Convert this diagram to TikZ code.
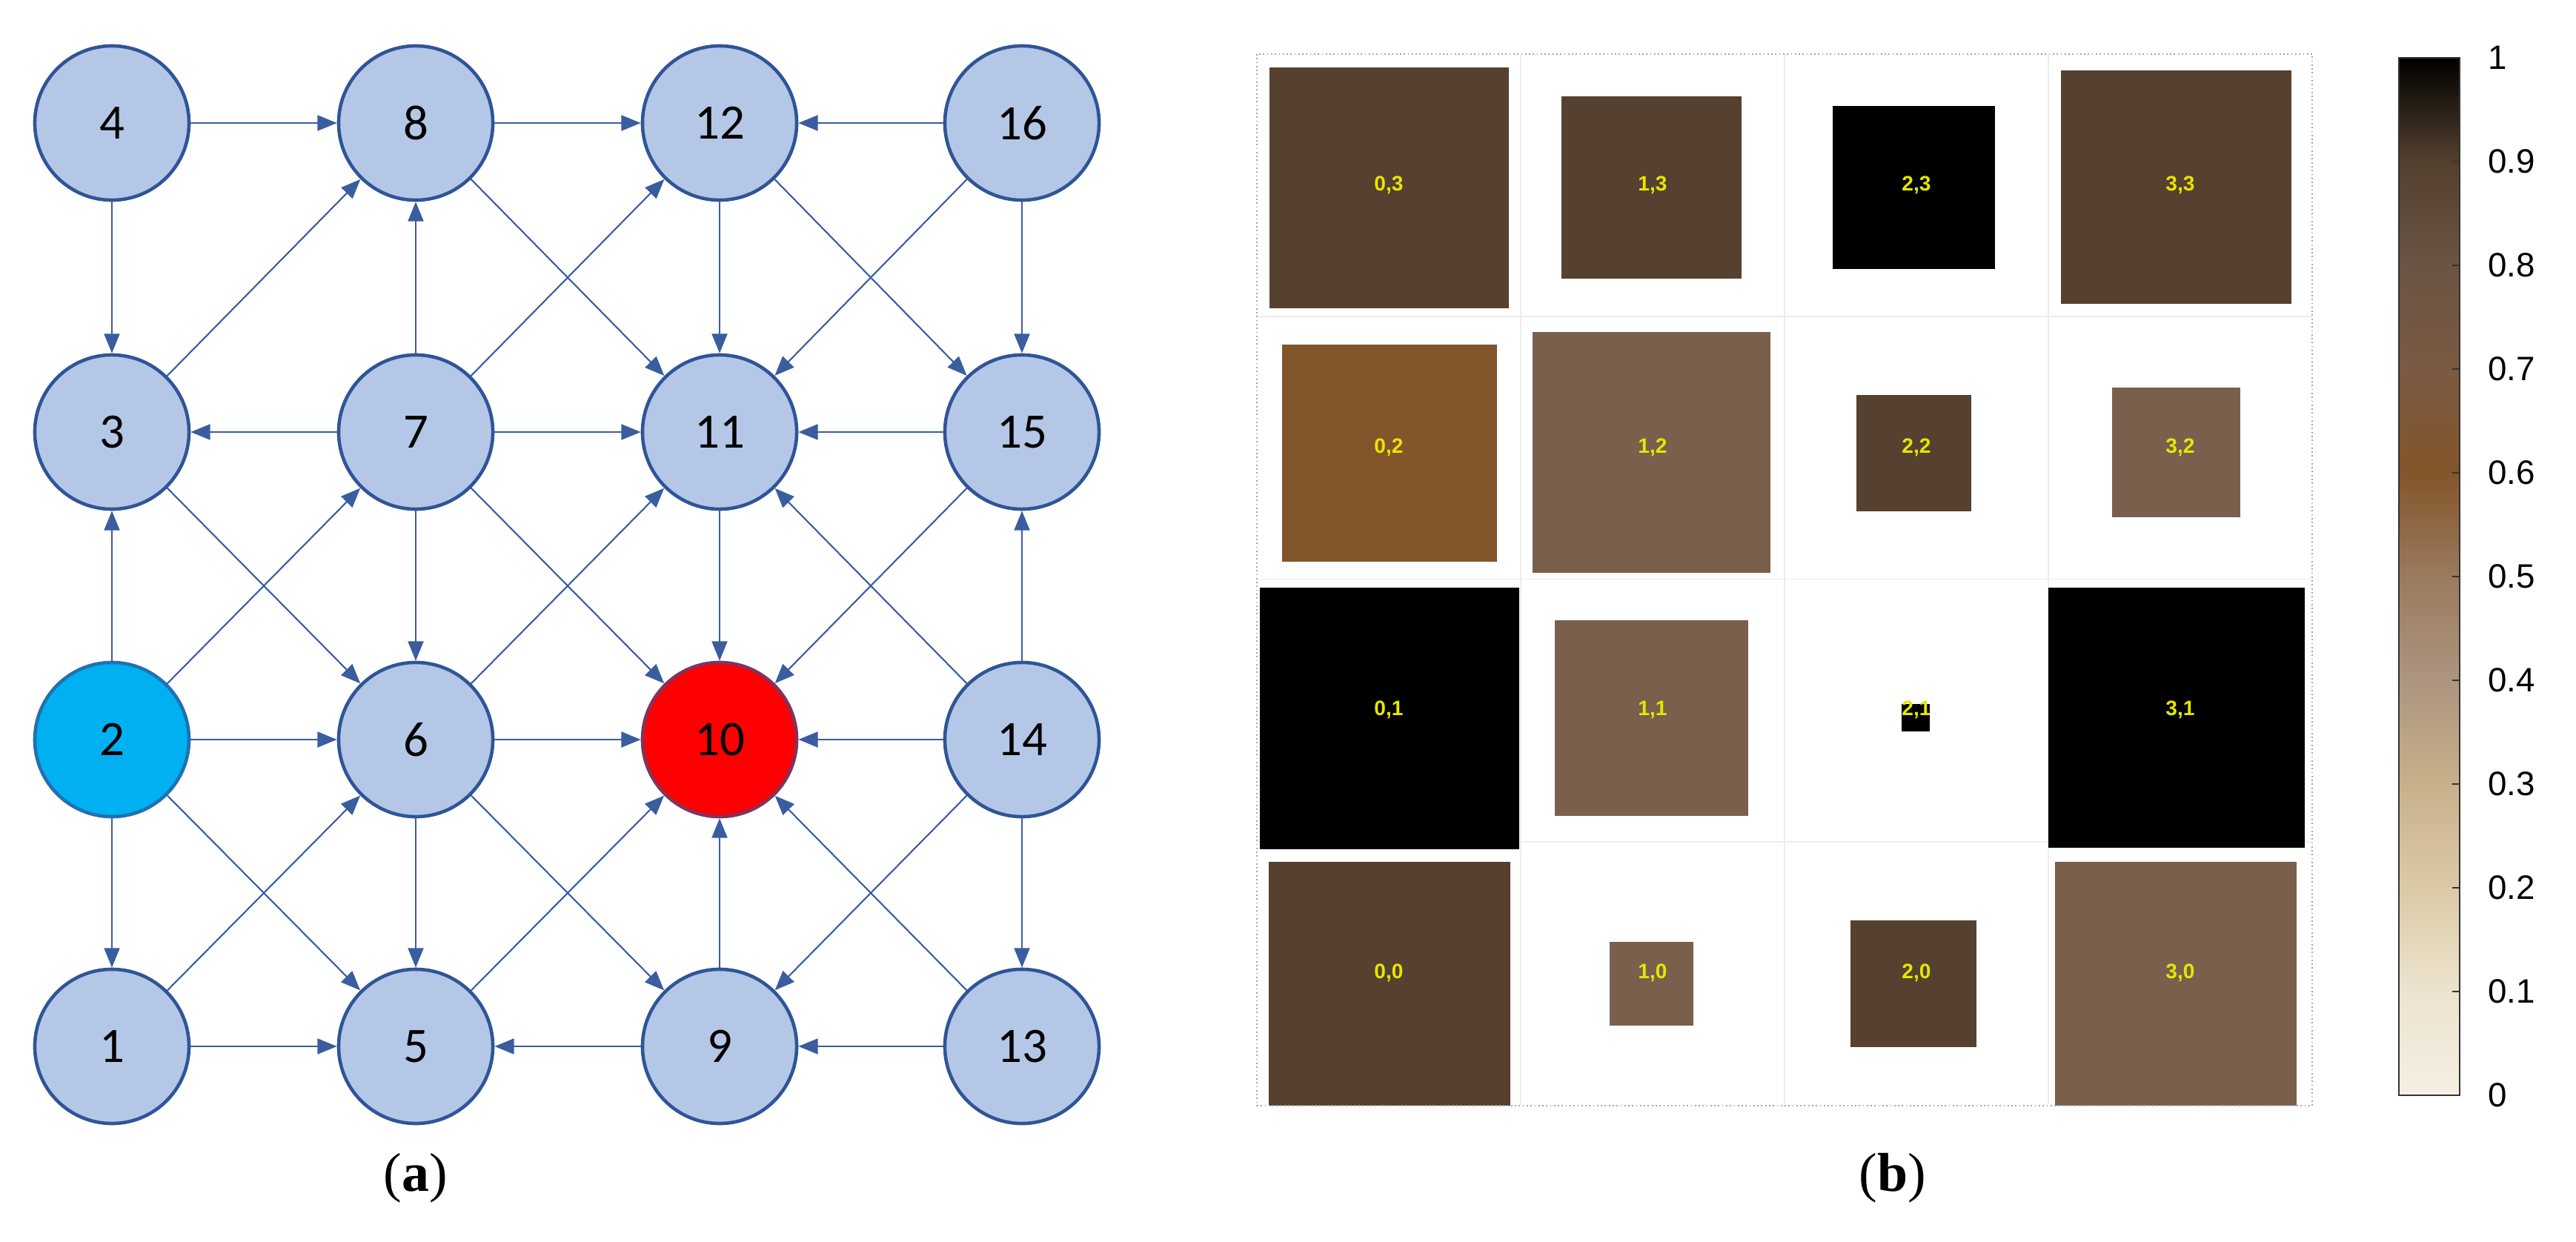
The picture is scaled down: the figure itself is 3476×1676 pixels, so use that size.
\documentclass[tikz,border=0pt]{standalone}
\usepackage{fontspec}
\setmainfont{Liberation Serif}
\newfontfamily\calib{Carlito}
\newfontfamily\arl{Liberation Sans}
\usetikzlibrary{arrows.meta}
\definecolor{nfill}{HTML}{B4C7E7}
\definecolor{nline}{HTML}{2F5597}
\definecolor{ecol}{HTML}{3A5DA0}
\definecolor{cyanf}{HTML}{00B0F0}
\definecolor{dbr}{HTML}{56402F}
\definecolor{mbr}{HTML}{7A5F4C}
\definecolor{obr}{HTML}{83552A}
\definecolor{ylw}{HTML}{E6E600}
\definecolor{s0}{HTML}{F5F0E3}
\definecolor{s1}{HTML}{ECE3CF}
\definecolor{s2}{HTML}{DCCAA6}
\definecolor{s3}{HTML}{C8B08A}
\definecolor{s4}{HTML}{AD9580}
\definecolor{s5}{HTML}{9B7A5E}
\definecolor{s6}{HTML}{84552A}
\definecolor{s7}{HTML}{7A5A43}
\definecolor{s8}{HTML}{6B5443}
\definecolor{s9}{HTML}{54402F}
\pgfdeclareverticalshading{cbar}{100bp}{color(0bp)=(s0); color(25bp)=(s0); color(30bp)=(s1); color(35bp)=(s2); color(40bp)=(s3); color(45bp)=(s4); color(50bp)=(s5); color(55bp)=(s6); color(60bp)=(s7); color(65bp)=(s8); color(70bp)=(s9); color(75bp)=(black); color(100bp)=(black)}
\tikzset{
  nd/.style={circle, minimum size=2.08cm, inner sep=0pt, draw=nline, line width=1.3pt, fill=nfill, font=\calib\fontsize{19}{19}\selectfont},
  ed/.style={draw=ecol, line width=0.6pt, -{Triangle[length=7.5pt,width=6pt]}},
  lab/.style={text=ylw, font=\arl\bfseries\fontsize{8}{8}\selectfont},
  tick/.style={anchor=west, font=\arl\fontsize{13}{13}\selectfont}
}
\begin{document}
\begin{tikzpicture}[x=0.01cm,y=-0.01cm]
\useasboundingbox (0,0) rectangle (3476,1676);
% nodes
\foreach \n/\x/\y in {4/151/166,8/561/166,12/971/166,16/1379/166,
  3/151/583,7/561/583,11/971/583,15/1379/583,
  6/561/998,14/1379/998,
  1/151/1412,5/561/1412,9/971/1412,13/1379/1412}
  \node[nd] (n\n) at (\x,\y) {\n};
\node[nd, fill=cyanf, draw=nline!70!cyanf] (n2) at (151,998) {2};
\node[nd, fill=red, draw=nline!60!red] (n10) at (971,998) {10};
% edges
\foreach \a/\b in {4/8,8/12,16/12,4/3,3/8,7/8,7/12,8/11,12/11,16/11,12/15,16/15,
  7/3,7/11,15/11,3/6,2/3,2/7,7/6,7/10,6/11,11/10,15/10,14/11,14/15,
  2/6,6/10,14/10,2/1,2/5,1/6,6/5,6/9,5/10,9/10,13/10,14/9,14/13,
  1/5,9/5,13/9}
  \draw[ed] (n\a) -- (n\b);
% captions
\node (capa) at (561,1590) {\fontsize{21}{21}\selectfont(\textbf{a})};
\node (capb) at (2554,1590) {\fontsize{21}{21}\selectfont(\textbf{b})};
% heatmap grid
\foreach \i in {1,2,3} {
  \draw[gray!15, line width=0.5pt] (1696+356*\i,73) -- (1696+356*\i,1490);
  \draw[gray!15, line width=0.5pt] (1696,73+354.25*\i) -- (3120,73+354.25*\i);
}
% squares
\fill[dbr] (1713,91) rectangle (2036,416);
\fill[dbr] (2107,130) rectangle (2350,376);
\fill[black] (2473,143) rectangle (2692,363);
\fill[dbr] (2781,95) rectangle (3092,410);
\fill[obr] (1730,465) rectangle (2020,758);
\fill[mbr] (2068,448) rectangle (2389,773);
\fill[dbr] (2505,533) rectangle (2660,690);
\fill[mbr] (2850,523) rectangle (3023,698);
\fill[black] (1700,793) rectangle (2050,1146);
\fill[mbr] (2098,837) rectangle (2359,1101);
\fill[black] (2566,950) rectangle (2604,987);
\fill[black] (2764,793) rectangle (3110,1144);
\fill[dbr] (1712,1163) rectangle (2038,1492);
\fill[mbr] (2172,1271) rectangle (2285,1384);
\fill[dbr] (2497,1242) rectangle (2667,1413);
\fill[mbr] (2773,1163) rectangle (3099,1492);
\foreach \i in {0,1,2,3} \foreach \j/\yy in {3/250,2/604,1/958,0/1313}
  \node[lab] (l\i\j) at (1874+356*\i,\yy) {\i,\j};
\draw[gray!70, densely dotted, line width=0.5pt] (1696,73) rectangle (3120,1492);
% colorbar
\shade[shading=cbar] (3237,78) rectangle (3319,1478);
\draw[black!80, line width=0.5pt] (3237,78) rectangle (3319,1478);
\foreach \v in {0,1,...,10} {
  \pgfmathsetmacro{\yy}{1478-140*\v}
  \draw[black!80, line width=0.5pt] (3319,\yy) -- (3309,\yy);
}
\foreach \v/\t in {0/0,1/0.1,2/0.2,3/0.3,4/0.4,5/0.5,6/0.6,7/0.7,8/0.8,9/0.9,10/1}
  \node[tick] (t\v) at (3345,1478-140*\v) {\t};
\end{tikzpicture}
\end{document}
